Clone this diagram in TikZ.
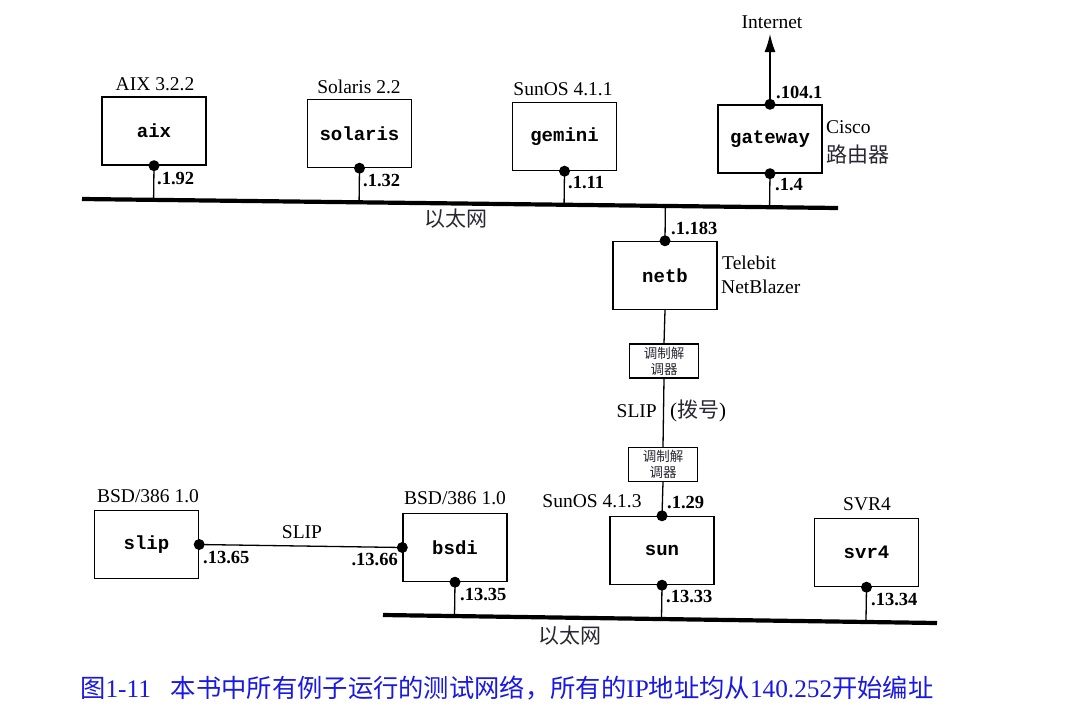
\documentclass[tikz,border=0pt]{standalone}
\usepackage{fontspec}
\setmainfont{Liberation Serif}
\setmonofont{Liberation Mono}
\newfontfamily\cjk{Noto Sans CJK SC}
\usetikzlibrary{calc,arrows.meta}
\definecolor{cjkgray}{RGB}{40,40,50}
\definecolor{capblue}{RGB}{25,25,225}
\begin{document}
\begin{tikzpicture}[x=1pt,y=-1pt,
  host/.style={draw,line width=1.4pt,minimum width=104pt,minimum height=68pt,inner sep=0pt,font=\fontsize{19}{21}\selectfont\ttfamily\bfseries},
  modem/.style={draw,line width=1.2pt,minimum width=69pt,minimum height=34pt,inner sep=0pt,align=center,font=\fontsize{13.5}{16}\selectfont\cjk,text=cjkgray},
  lbl/.style={inner sep=0pt,font=\fontsize{19.5}{22}\selectfont},
  ip/.style={inner sep=0pt,font=\fontsize{18.5}{21}\selectfont\bfseries},
  zh/.style={inner sep=0pt,font=\fontsize{21}{24}\selectfont\cjk,text=cjkgray},
  ipdot/.style={circle,fill,inner sep=0pt,minimum size=11pt},
  wire/.style={line width=1.3pt},
  ether/.style={line width=4.2pt}]
\useasboundingbox[fill=white] (0,0) rectangle (1076,710);

% hosts
\node[host] (aix) at (154,131) {aix};
\node[host] (solaris) at (359.5,133.5) {solaris};
\node[host] (gemini) at (564.5,136.5) {gemini};
\node[host] (gateway) at (770,139) {gateway};
\node[host] (netb) at (665,275.5) {netb};
\node[modem] (m1) at (664,361) {调制解\\调器};
\node[modem] (m2) at (663,464.5) {调制解\\调器};
\node[host] (slip) at (146.5,544.5) {slip};
\node[host] (bsdi) at (455,547.5) {bsdi};
\node[host] (sun) at (662,550.5) {sun};
\node[host] (svr4) at (866.5,552.5) {svr4};

% ethernets
\coordinate (e1w) at (82,199);
\coordinate (e1e) at (838,208);
\coordinate (e2w) at (383,615);
\coordinate (e2e) at (937,623);
\draw[ether] (e1w) -- (e1e);
\draw[ether] (e2w) -- (e2e);

% dots
\node[ipdot] (aixd) at (aix.south) {};
\node[ipdot] (solarisd) at (solaris.south) {};
\node[ipdot] (geminid) at (gemini.south) {};
\node[ipdot] (gwbot) at (gateway.south) {};
\node[ipdot] (gwtop) at (gateway.north) {};
\node[ipdot] (netbd) at (netb.north) {};
\node[ipdot] (slipd) at (slip.east) {};
\node[ipdot] (bsdiw) at (bsdi.west) {};
\node[ipdot] (bsdis) at (bsdi.south) {};
\node[ipdot] (sunn) at (sun.north) {};
\node[ipdot] (suns) at (sun.south) {};
\node[ipdot] (svr4d) at (svr4.south) {};

% stubs
\draw[wire] (aixd.center) -- ($(e1w)!(aixd.center)!(e1e)$);
\draw[wire] (solarisd.center) -- ($(e1w)!(solarisd.center)!(e1e)$);
\draw[wire] (geminid.center) -- ($(e1w)!(geminid.center)!(e1e)$);
\draw[wire] (gwbot.center) -- ($(e1w)!(gwbot.center)!(e1e)$);
\draw[wire] ($(e1w)!(netbd.center)!(e1e)$) -- (netbd.center);
\draw[wire] (bsdis.center) -- ($(e2w)!(bsdis.center)!(e2e)$);
\draw[wire] (suns.center) -- ($(e2w)!(suns.center)!(e2e)$);
\draw[wire] (svr4d.center) -- ($(e2w)!(svr4d.center)!(e2e)$);

% links
\draw[wire] (netb.south) -- (m1.north);
\draw[wire] (m1.south) -- (m2.north);
\draw[wire] (m2.south) -- (sunn.center);
\draw[wire] (slipd.center) -- (bsdiw.center);
\node[lbl] (internet) at (772,22) {Internet};
\coordinate (inettip) at (770,34);
\draw[wire,-{Latex[length=18pt,width=11pt]}] (gwtop.center) -- (inettip);

% system labels
\node[lbl] (l-aix) at (155,84) {AIX 3.2.2};
\node[lbl] (l-sol) at (359,87) {Solaris 2.2};
\node[lbl] (l-gem) at (563,89) {SunOS 4.1.1};
\node[lbl,anchor=west] (l-cisco) at (826,127) {Cisco};
\node[zh,anchor=west] (l-rt) at (826,155) {路由器};
\node[lbl,anchor=west] (l-tb) at (722,263) {Telebit};
\node[lbl,anchor=west] (l-nb) at (721,287) {NetBlazer};
\node[lbl,anchor=east] (l-slipv) at (657,411) {SLIP};
\node[lbl,anchor=west] (l-dial) at (670,411) {\fontsize{21}{24}\selectfont (\textcolor{cjkgray}{\cjk 拨号})};
\node[lbl] (l-bsd1) at (148,496) {BSD/386 1.0};
\node[lbl] (l-bsd2) at (455,498) {BSD/386 1.0};
\node[lbl] (l-sliph) at (302,532) {SLIP};
\node[lbl] (l-sun) at (592,501) {SunOS 4.1.3};
\node[lbl] (l-svr) at (867,504) {SVR4};
\node[zh] (eth1) at (456,219) {以太网};
\node[zh] (eth2) at (570,636) {以太网};

% ip labels
\node[ip,anchor=west] at (157,179) {.1.92};
\node[ip,anchor=west] at (363,181) {.1.32};
\node[ip,anchor=west] at (568,183) {.1.11};
\node[ip,anchor=west] at (776,92) {.104.1};
\node[ip,anchor=west] at (775,185) {.1.4};
\node[ip,anchor=west] at (671,228) {.1.183};
\node[ip,anchor=west] at (203,557) {.13.65};
\node[ip,anchor=east] at (398,559) {.13.66};
\node[ip,anchor=west] at (460,594) {.13.35};
\node[ip,anchor=west] at (667,502) {.1.29};
\node[ip,anchor=west] at (666,596) {.13.33};
\node[ip,anchor=west] at (871,599) {.13.34};

% caption
\node[anchor=west,inner sep=0pt,text=capblue,font=\fontsize{25.3}{28}\selectfont] (cap) at (80,688)
  {{\cjk 图}1-11\hspace{20pt}{\cjk 本书中所有例子运行的测试网络，所有的}IP{\cjk 地址均从}140.252{\cjk 开始编址}};
\end{tikzpicture}
\end{document}
